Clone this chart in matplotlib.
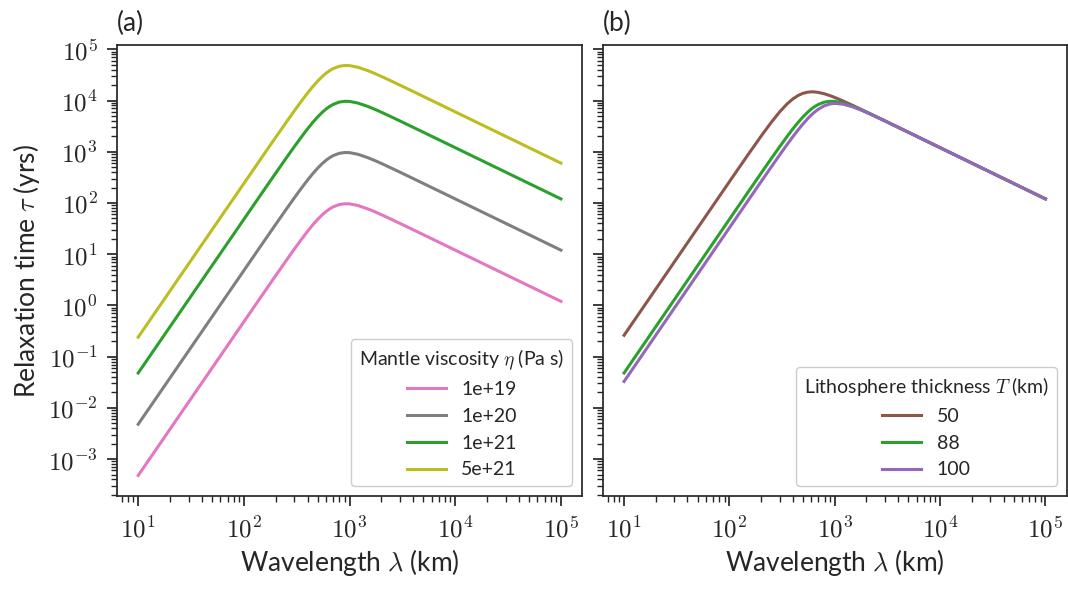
#!/usr/bin/env python3
"""Relaxation time vs wavelength for mantle viscosity and lithosphere thickness."""
import matplotlib
matplotlib.use("Agg")
import matplotlib.pyplot as plt
import numpy as np
from matplotlib.ticker import FuncFormatter, LogLocator, NullFormatter

# ---- data ------------------------------------------------------------------
wavelength = [10, 20, 50, 100, 150, 200, 250, 300, 350, 400, 450, 500, 550,
              600, 650, 700, 800, 900, 1000, 1200, 1500, 1750, 2000, 2500,
              3000, 5000, 1e4, 2e4, 5e4, 1e5]

# panel (a): mantle viscosity (Pa s)
visc_labels = ["1e+19", "1e+20", "1e+21", "5e+21"]
tau_1e19 = [4.8e-4, 3.84e-3, 0.060, 0.48, 1.62, 3.82, 7.38, 12.55, 19.4, 27.9,
            37.6, 48.0, 58.5, 68.3, 76.9, 84.0, 93.2, 96.5, 96.0, 89.2, 76.2,
            66.8, 59.1, 47.7, 39.9, 24.0, 12.0, 6.0, 2.4, 1.2]
tau_1e20 = [4.8e-3, 3.84e-2, 0.60, 4.8, 16.2, 38.2, 73.8, 125.5, 194, 279,
            376, 480, 585, 683, 769, 840, 932, 965, 960, 892, 762,
            668, 591, 477, 399, 240, 120, 60, 24, 12]
tau_1e21 = [4.8e-2, 0.384, 6.0, 48, 162, 382, 738, 1255, 1940, 2790,
            3760, 4800, 5850, 6830, 7690, 8400, 9320, 9650, 9600, 8920, 7620,
            6680, 5910, 4770, 3990, 2400, 1200, 600, 240, 120]
tau_5e21 = [0.24, 1.92, 30, 240, 810, 1910, 3690, 6275, 9700, 13950,
            18800, 24000, 29250, 34150, 38450, 42000, 46600, 48250, 48000,
            44600, 38100, 33400, 29550, 23850, 19950, 12000, 6000, 3000,
            1200, 600]

# panel (b): lithosphere thickness (km), viscosity 1e21
thick_labels = ["50", "88", "100"]
tau_T50 = [0.261, 2.09, 32.6, 260.6, 871, 2019, 3762, 5997, 8439, 10733,
           12575, 13830, 14524, 14765, 14682, 14389, 13487, 12461, 11472,
           9783, 7928, 6824, 5983, 4794, 3998, 2400, 1200, 600, 240, 120]
tau_T88 = tau_1e21
tau_T100 = [0.0328, 0.262, 4.09, 32.7, 110.4, 261, 506, 866, 1349, 1960,
            2684, 3498, 4360, 5226, 6047, 6787, 7918, 8556, 8782, 8498, 7460,
            6599, 5866, 4755, 3982, 2399, 1200, 600, 240, 120]

visc_colors = ["#e377c2", "#7f7f7f", "#2ca02c", "#bcbd22"]
thick_colors = ["#8c564b", "#2ca02c", "#9467bd"]

INK = "#262626"
plt.rcParams.update({
    "font.family": ["Lato", "DejaVu Sans"],
    "mathtext.fontset": "cm",
    "text.color": INK,
    "axes.labelcolor": INK,
    "axes.edgecolor": INK,
    "xtick.color": INK,
    "ytick.color": INK,
})


def decade(v, pos):
    return f"$10^{{{int(round(np.log10(v)))}}}$"


fig = plt.figure(figsize=(10.68, 5.89), dpi=100)
ax_a = fig.add_axes([0.1096, 0.158, 0.4354, 0.7656])
ax_b = fig.add_axes([0.5646, 0.158, 0.4340, 0.7656], sharey=ax_a)

for lab, tau, col in zip(visc_labels, [tau_1e19, tau_1e20, tau_1e21, tau_5e21],
                         visc_colors):
    ax_a.plot(wavelength, tau, color=col, lw=2.2, label=lab)
for lab, tau, col in zip(thick_labels, [tau_T50, tau_T88, tau_T100],
                         thick_colors):
    ax_b.plot(wavelength, tau, color=col, lw=2.2, label=lab)

for ax, tag in [(ax_a, "(a)"), (ax_b, "(b)")]:
    ax.set_xscale("log")
    ax.set_yscale("log")
    for s in ax.spines.values():
        s.set_linewidth(1.25)
    ax.xaxis.set_major_locator(LogLocator(base=10, numticks=20))
    ax.xaxis.set_minor_locator(LogLocator(base=10, subs=np.arange(2, 10), numticks=20))
    ax.yaxis.set_major_locator(LogLocator(base=10, numticks=20))
    ax.yaxis.set_minor_locator(LogLocator(base=10, subs=np.arange(2, 10), numticks=20))
    ax.xaxis.set_major_formatter(FuncFormatter(decade))
    ax.xaxis.set_minor_formatter(NullFormatter())
    ax.yaxis.set_minor_formatter(NullFormatter())
    ax.tick_params(which="major", length=7, width=1.25, labelsize=18, pad=7)
    ax.tick_params(which="minor", length=4, width=1.0)
    ax.set_xlabel(r"Wavelength $\lambda$ (km)", fontsize=19)
    ax.text(0.0, 1.02, tag, transform=ax.transAxes, ha="left", va="bottom",
            fontsize=19)

ax_a.yaxis.set_major_formatter(FuncFormatter(decade))
ax_a.set_ylabel(r"Relaxation time $\tau$ (yrs)", fontsize=19)
plt.setp(ax_b.get_yticklabels(), visible=False)

leg_kw = dict(loc="lower right", fontsize=14, title_fontsize=14, frameon=True,
              fancybox=True, edgecolor="#cccccc", framealpha=1.0)
ax_a.legend(title=r"Mantle viscosity $\eta$ (Pa s)", **leg_kw)
ax_b.legend(title=r"Lithosphere thickness $T$ (km)", **leg_kw)

fig.savefig("out.png", dpi=100, facecolor="white")
